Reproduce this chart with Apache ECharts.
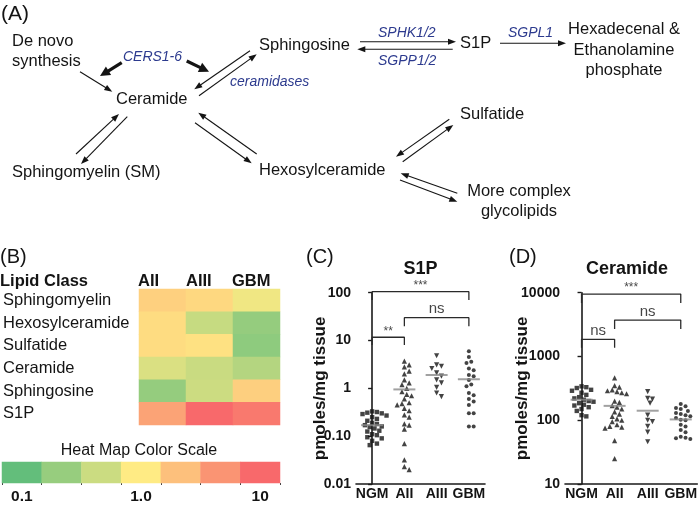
<!DOCTYPE html>
<html><head><meta charset="utf-8">
<script src="https://cdn.jsdelivr.net/npm/echarts@6/dist/echarts.min.js"></script>
<style>html,body{margin:0;padding:0;background:#fff}#c{width:700px;height:505px}</style>
</head><body><div id="c"></div>
<script>
// ---------- DATA ----------
const lipidRows = ['Sphingomyelin','Hexosylceramide','Sulfatide','Ceramide','Sphingosine','S1P'];
const heatCols = ['AII','AIII','GBM'];
const foldAII  = [1.6, 1.3, 1.3, 0.58, 0.21, 3.6];
const foldAIII = [1.4, 0.43, 1.2, 0.45, 0.47, 10];
const foldGBM  = [0.8, 0.21, 0.19, 0.33, 1.64, 7.5];
const scaleSteps = [-1, -0.667, -0.333, 0, 0.333, 0.667, 1]; // log10 fold
const scaleLabels = ['0.1','','','1.0','','','10'];

const groups = ['NGM','AII','AIII','GBM'];
const s1pNGM  = [0.33,0.32,0.31,0.30,0.29,0.27,0.25,0.23,0.21,0.19,0.18,0.17,0.16,0.155,0.145,0.13,0.125,0.11,0.105,0.095,0.09,0.08,0.07,0.065];
const s1pAII  = [3.7,3.1,2.8,2.3,2.0,1.5,1.3,1.2,1.0,0.85,0.75,0.7,0.6,0.5,0.48,0.45,0.38,0.34,0.28,0.25,0.18,0.17,0.14,0.07,0.032,0.023,0.02];
const s1pAIII = [4.8,3.1,2.9,2.6,2.1,1.8,1.5,1.3,1.05,0.8,0.67];
const s1pGBM  = [6.0,4.5,3.6,3.4,2.6,2.4,1.9,1.8,1.5,1.2,1.1,0.8,0.72,0.6,0.53,0.45,0.3,0.3,0.16,0.16];
const s1pMean = [0.17,0.95,1.9,1.55];
const s1pTickLabels = {'-2':'0.01','-1':'0.10','0':'1','1':'10','2':'100'};

const cerNGM  = [340,330,320,300,290,270,250,230,220,210,200,195,185,175,170,160,150,140,120,115];
const cerAII  = [460,350,330,300,290,280,270,260,200,190,170,160,150,135,125,115,105,100,95,85,80,78,75,48,25];
const cerAIII = [280,220,215,185,120,100,95,80,65,46];
const cerGBM  = [180,165,155,150,140,130,125,120,115,108,102,100,85,80,70,65,55,53,52,51];
const cerMean = [210,168,141,103];
const cerTickLabels = {'1':'10','2':'100','3':'1000','4':'10000'};

const bracketPairsC = [[0,3],[1,3],[0,1]];
const bracketTopC = [105, 30, 11.7];
const bracketLegC = [70, 20, 8.1];
const bracketTextC = ['***','ns','**'];
const bracketPairsD = [[0,3],[1,3],[0,1]];
const bracketTopD = [9500, 3720, 1860];
const bracketLegD = [6900, 2690, 1370];
const bracketTextD = ['***','ns','ns'];

// ---------- HELPERS ----------
const FONT = '"Liberation Sans", Arial, sans-serif';
const INK = '#141414';
const BLUE = '#2c3a8e';
function txt(t, x, y, size, o) {
  o = o || {};
  return {type:'text', x:x, y:y, silent:true, z:10,
    style:{text:t, font:(o.italic?'italic ':'')+(o.bold?'bold ':'')+size+'px '+FONT,
      fill:o.color||INK, textAlign:o.align||'left', textVerticalAlign:'middle'}};
}
function arrow(x1,y1,x2,y2,lw,hl,hw){
  const dx=x2-x1, dy=y2-y1, L=Math.hypot(dx,dy), ux=dx/L, uy=dy/L, nx=-uy, ny=ux;
  const bx=x2-ux*hl, by=y2-uy*hl;
  return [
    {type:'line', silent:true, shape:{x1:x1,y1:y1,x2:bx+ux*0.5,y2:by+uy*0.5}, style:{stroke:INK,lineWidth:lw}},
    {type:'polygon', silent:true, shape:{points:[[x2,y2],[bx+nx*hw/2,by+ny*hw/2],[bx-nx*hw/2,by-ny*hw/2]]}, style:{fill:INK}}
  ];
}
function swarm(vals, pxPerDec, bandPx, d){
  const order = vals.map((v,i)=>i).sort((a,b)=>vals[b]-vals[a]);
  const placed=[], off=new Array(vals.length).fill(0);
  order.forEach(i=>{
    const y=Math.log10(vals[i])*pxPerDec;
    for(let k=0;k<60;k++){
      const x=(k%2===1?1:-1)*Math.ceil(k/2)*d*0.5;
      if(placed.every(p=>Math.hypot(p.x-x,p.y-y)>=d)){placed.push({x:x,y:y});off[i]=x/bandPx;break;}
    }
  });
  return off;
}

// ---------- LAYOUT ----------
const gC = {left:356, top:292.7, width:129, height:191.3};
const gD = {left:565, top:292.7, width:133, height:191.3};

const heatData = [];
[foldAII, foldAIII, foldGBM].forEach((arr,c)=>arr.forEach((v,r)=>heatData.push([c,r,Math.log10(v)])));
const scaleData = scaleSteps.map((v,i)=>[i,0,v]);

function groupSeries(sets, means, xAxisIndex, yAxisIndex, pxPerDec, bandPx){
  const symbols=['rect','triangle','triangle','circle'], rot=[0,0,180,0], size=[4.4,5.2,5.2,4];
  const out=[];
  sets.forEach((vals,g)=>{
    const off=swarm(vals,pxPerDec,bandPx,4.8);
    out.push({type:'scatter', xAxisIndex:xAxisIndex, yAxisIndex:yAxisIndex, symbol:symbols[g], symbolRotate:rot[g],
      symbolSize:size[g], itemStyle:{color:INK}, silent:true, z:3,
      data:vals.map((v,i)=>[g+off[i], v])});
  });
  out.push({type:'scatter', xAxisIndex:xAxisIndex, yAxisIndex:yAxisIndex, symbol:'rect', symbolSize:[22,2],
    itemStyle:{color:'#8a8a8a'}, silent:true, z:4, data:means.map((m,g)=>[g,m])});
  return out;
}
function bracketSeries(pairs, tops, legs, texts, xAxisIndex, yAxisIndex){
  const out=[];
  pairs.forEach((p,i)=>{
    out.push({type:'line', xAxisIndex:xAxisIndex, yAxisIndex:yAxisIndex, clip:false, silent:true, symbol:'none',
      lineStyle:{color:'#2a2a2a', width:1.3},
      data:[[p[0],legs[i]],[p[0],tops[i]],[p[1],tops[i]],[p[1],legs[i]]]});
    const star = texts[i].indexOf('*')>=0;
    out.push({type:'scatter', xAxisIndex:xAxisIndex, yAxisIndex:yAxisIndex, clip:false, silent:true, symbolSize:0,
      label:{show:true, position:'top', distance:star?0:1, formatter:texts[i],
        fontFamily:FONT, fontSize:star?12:15, fontWeight:'normal', color:INK},
      data:[[(p[0]+p[1])/2, tops[i]]]});
  });
  return out;
}

const axisLineStyle = {lineStyle:{color:'#1a1a1a', width:1.6}};
function logAxis(grid, min, max, labels, name, nameGap){
  return {type:'log', logBase:10, gridIndex:grid, min:min, max:max,
    axisLine:Object.assign({show:true}, axisLineStyle),
    axisTick:{show:true, length:4, lineStyle:{color:'#1a1a1a', width:1.4}},
    splitLine:{show:false},
    axisLabel:{margin:5, fontFamily:FONT, fontSize:14, fontWeight:'bold', color:INK,
      formatter:v=>labels[String(Math.round(Math.log10(v)))]||''},
    name:name, nameLocation:'middle', nameGap:nameGap, nameMoveOverlap:false,
    nameTextStyle:{fontFamily:FONT, fontSize:17, fontWeight:'bold', color:INK}};
}
function catAxis(grid){
  return {type:'category', gridIndex:grid, data:groups, boundaryGap:true,
    axisLine:Object.assign({show:true}, axisLineStyle), axisTick:{show:false},
    axisLabel:{margin:3, fontFamily:FONT, fontSize:14, fontWeight:'bold', color:INK, interval:0}};
}
function hiddenX(grid){ return {type:'value', gridIndex:grid, min:-0.5, max:3.5, show:false}; }

// ---------- PANEL A + TEXT GRAPHICS ----------
let graphics = [];
graphics.push(txt('(A)', 1, 14, 21));
graphics.push(txt('De novo', 12, 41, 16.5), txt('synthesis', 12, 61, 16.5));
graphics.push(txt('CERS1-6', 152.5, 57, 14, {italic:true, color:BLUE, align:'center'}));
graphics.push(txt('Ceramide', 116, 99, 16.5));
graphics.push(txt('Sphingosine', 259, 45, 16.5));
graphics.push(txt('ceramidases', 230, 82, 14, {italic:true, color:BLUE}));
graphics.push(txt('Sphingomyelin (SM)', 12, 172, 16.5));
graphics.push(txt('Hexosylceramide', 259, 170, 16.5));
graphics.push(txt('SPHK1/2', 378, 33, 14, {italic:true, color:BLUE}));
graphics.push(txt('SGPP1/2', 378, 61, 14, {italic:true, color:BLUE}));
graphics.push(txt('S1P', 460, 43, 16.5));
graphics.push(txt('SGPL1', 508, 33, 14, {italic:true, color:BLUE}));
graphics.push(txt('Hexadecenal &', 624, 29, 16.5, {align:'center'}));
graphics.push(txt('Ethanolamine', 624, 50, 16.5, {align:'center'}));
graphics.push(txt('phosphate', 624, 70, 16.5, {align:'center'}));
graphics.push(txt('Sulfatide', 460, 114, 16.5));
graphics.push(txt('More complex', 519, 191, 16.5, {align:'center'}));
graphics.push(txt('glycolipids', 519, 211, 16.5, {align:'center'}));
const TA = [1.1, 8, 6];
graphics = graphics.concat(
  arrow(121.7,62.7,100,76,3.2,10,10),
  arrow(186.7,61,209,71.7,3.2,10,10),
  arrow(80,71.7,112.3,91.7,...TA),
  arrow(199,95.7,256.7,54.3,...TA),
  arrow(250,50.7,194.3,89.3,...TA),
  arrow(76,154,119,114,...TA),
  arrow(127.3,116.7,81,164,...TA),
  arrow(256.7,154,198.3,112.7,...TA),
  arrow(195,122.7,251.7,163.3,...TA),
  arrow(360,41.7,456,41.7,...TA),
  arrow(452.7,49.3,357.3,49.3,...TA),
  arrow(500,43.3,566,43.3,...TA),
  arrow(449.3,119.3,396,156.7,...TA),
  arrow(402.7,161.7,453.3,125,...TA),
  arrow(457.3,193.3,400.7,173.3,...TA),
  arrow(400,180,457.3,201.7,...TA)
);
graphics.push(txt('(B)', 0, 257, 20));
graphics.push(txt('Lipid Class', 0, 281, 16.5, {bold:true}));
graphics.push(txt(heatCols[0], 138, 281, 16.5, {bold:true}));
graphics.push(txt(heatCols[1], 186, 281, 16.5, {bold:true}));
graphics.push(txt(heatCols[2], 232, 281, 16.5, {bold:true}));
graphics.push(txt('Heat Map Color Scale', 139, 451, 16, {align:'center'}));
graphics.push(txt('(C)', 306, 257, 20));
graphics.push(txt('S1P', gC.left+gC.width/2, 269, 18, {bold:true, align:'center'}));
graphics.push(txt('(D)', 509, 257, 20));
graphics.push(txt('Ceramide', 627, 269, 18, {bold:true, align:'center'}));

// ---------- OPTION ----------
const option = {
  animation:false,
  backgroundColor:'#ffffff',
  graphic:graphics,
  visualMap:{type:'continuous', show:false, min:-1, max:1, seriesIndex:[0,1], dimension:2,
    inRange:{color:['#63BE7B','#FFEB84','#F8696B']}},
  grid:[
    {left:137, top:289, width:143, height:136},
    {left:2, top:462, width:278, height:22},
    gC, gD
  ],
  xAxis:[
    {type:'category', gridIndex:0, data:heatCols, show:false},
    {type:'category', gridIndex:1, data:scaleLabels.map((l,i)=>String(i)),
      axisLine:{show:false}, axisTick:{show:true, length:2, interval:0, lineStyle:{color:'#444'}},
      axisLabel:{interval:0, margin:6, fontFamily:FONT, fontSize:15.5, fontWeight:'bold', color:INK,
        formatter:(v,i)=>scaleLabels[i]}},
    catAxis(2), hiddenX(2), catAxis(3), hiddenX(3)
  ],
  yAxis:[
    {type:'category', gridIndex:0, data:lipidRows, inverse:true,
      axisLine:{show:false}, axisTick:{show:false},
      axisLabel:{align:'left', margin:136, fontFamily:FONT, fontSize:16.5, color:INK}},
    {type:'category', gridIndex:1, data:[''], show:false},
    logAxis(2, 0.01, 100, s1pTickLabels, 'pmoles/mg tissue', 27),
    logAxis(3, 10, 10000, cerTickLabels, 'pmoles/mg tissue', 34)
  ],
  series:[
    {type:'heatmap', xAxisIndex:0, yAxisIndex:0, data:heatData, silent:true},
    {type:'heatmap', xAxisIndex:1, yAxisIndex:1, data:scaleData, silent:true}
  ]
  .concat(groupSeries([s1pNGM,s1pAII,s1pAIII,s1pGBM], s1pMean, 3, 2, gC.height/4, gC.width/4))
  .concat(groupSeries([cerNGM,cerAII,cerAIII,cerGBM], cerMean, 5, 3, gD.height/3, gD.width/4))
  .concat(bracketSeries(bracketPairsC, bracketTopC, bracketLegC, bracketTextC, 3, 2))
  .concat(bracketSeries(bracketPairsD, bracketTopD, bracketLegD, bracketTextD, 5, 3))
};
const chart = echarts.init(document.getElementById('c'), null, {renderer:'canvas', width:700, height:505});
chart.setOption(option);
</script></body></html>
